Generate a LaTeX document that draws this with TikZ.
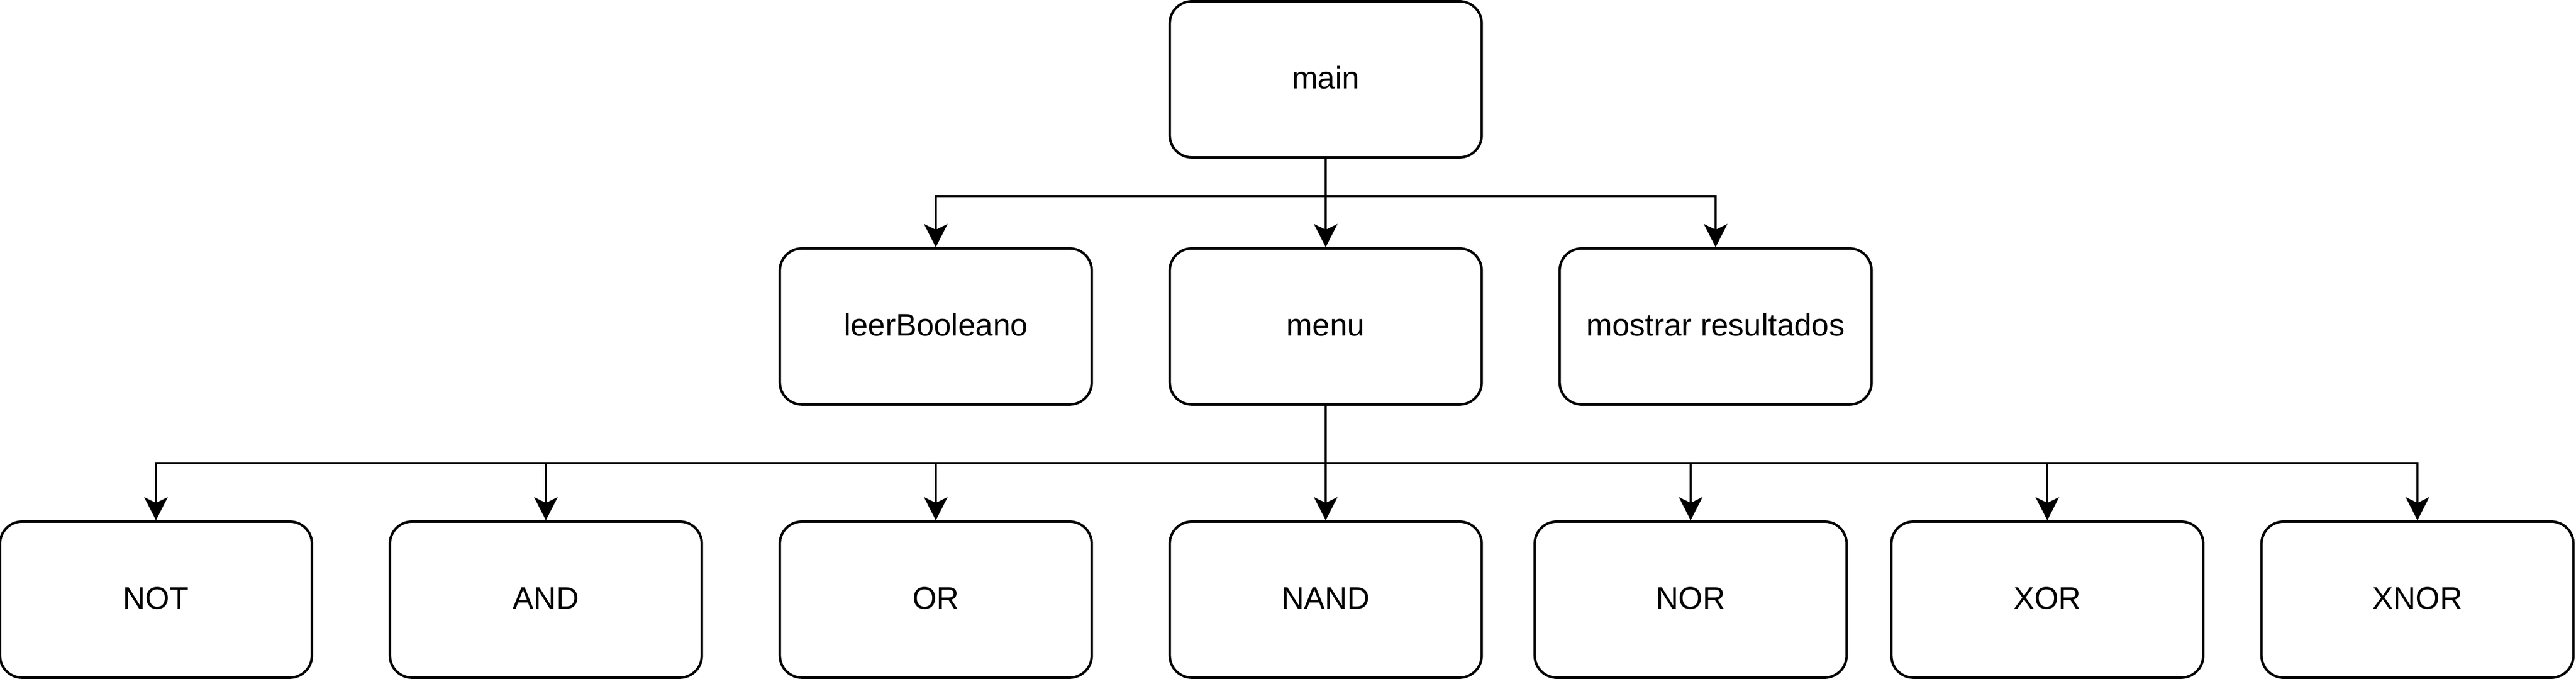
\documentclass[tikz,border=0pt]{standalone}
\usepackage{fontspec}
\setmainfont{Liberation Sans}
\usetikzlibrary{
  arrows.meta,
  positioning
}

\begin{document}
\begin{tikzpicture}[x=1pt, y=-1pt,
  fnbox/.style={draw, line width=0.95pt, rounded corners=8.5pt, minimum width=120pt,
    minimum height=60pt, inner sep=0pt, text height=9.5pt, text depth=2.3pt,
    font=\fontsize{12}{14}\selectfont},
  call/.style={-{Stealth[length=8.9pt, width=9pt, inset=2.2pt]}, line width=0.9pt}]
  \useasboundingbox (0, 0) rectangle (991, 261);

  % Row 0: entry point
  \node[fnbox] (main) at (510, 30.5) {main};

  % Row 1: called from main
  \node[fnbox] (leer) at (360, 125.5) {leerBooleano};
  \node[fnbox] (menu) at (510, 125.5) {menu};
  \node[fnbox] (mostrar) at (660, 125.5) {mostrar resultados};

  % Row 2: operators called from menu
  \foreach \op/\x in {NOT/60, AND/210, OR/360, NAND/510, NOR/650.4, XOR/787.6, XNOR/930} {
    \node[fnbox] (\op) at (\x, 230.5) {\op};
  }

  % main -> row 1
  \coordinate (busA) at (510, 75.4);
  \draw[call] (main.south) -- (busA) -| (leer.north);
  \draw[call] (busA) -- (menu.north);
  \draw[call] (busA) -| (mostrar.north);

  % menu -> operators
  \coordinate (busB) at (510, 178);
  \draw[line width=0.9pt] (menu.south) -- (busB);
  \foreach \op in {NOT, AND, OR, NAND, NOR, XOR, XNOR} {
    \draw[call] (busB) -| (\op.north);
  }
\end{tikzpicture}
\end{document}
